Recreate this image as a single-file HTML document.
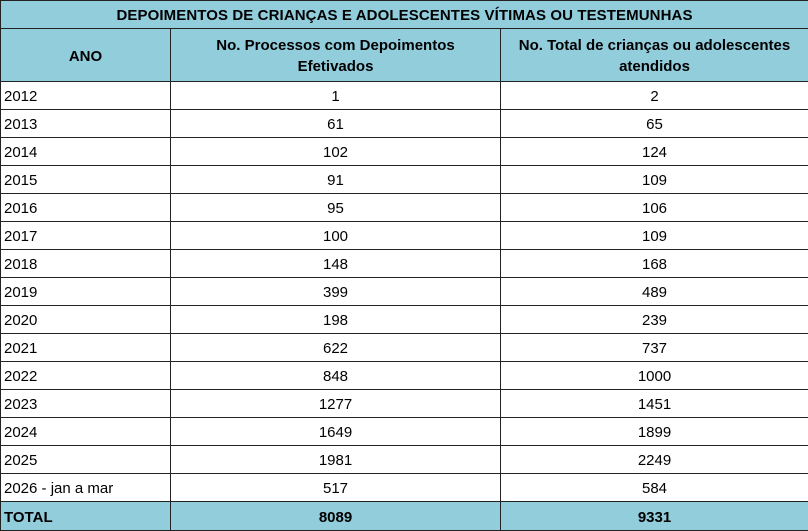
<!DOCTYPE html>
<html><head><meta charset="utf-8"><style>
body{margin:0;background:#fff;}
table{position:absolute;left:0;top:0;border-collapse:collapse;width:808px;table-layout:fixed;font-family:"Liberation Sans",sans-serif;font-size:15px;color:#000;}
td{border:1px solid #222;padding:2px 0 0 0;height:25px;text-align:center;vertical-align:middle;}
td.l{text-align:left;padding-left:3px;}
.h td{background:#92CDDC;font-weight:bold;}
tr.hd td{height:50px;line-height:21px;}
tr.t td{height:26px;}
</style></head><body>
<table>
<colgroup><col style="width:170px"><col style="width:330px"><col style="width:308px"></colgroup>
<tr class="h"><td colspan="3" style="letter-spacing:0.1px">DEPOIMENTOS DE CRIANÇAS E ADOLESCENTES VÍTIMAS OU TESTEMUNHAS</td></tr>
<tr class="h hd"><td>ANO</td><td>No. Processos com Depoimentos<br>Efetivados</td><td>No. Total de crianças ou adolescentes<br>atendidos</td></tr>
<tr><td class="l">2012</td><td>1</td><td>2</td></tr>
<tr><td class="l">2013</td><td>61</td><td>65</td></tr>
<tr><td class="l">2014</td><td>102</td><td>124</td></tr>
<tr><td class="l">2015</td><td>91</td><td>109</td></tr>
<tr><td class="l">2016</td><td>95</td><td>106</td></tr>
<tr><td class="l">2017</td><td>100</td><td>109</td></tr>
<tr><td class="l">2018</td><td>148</td><td>168</td></tr>
<tr><td class="l">2019</td><td>399</td><td>489</td></tr>
<tr><td class="l">2020</td><td>198</td><td>239</td></tr>
<tr><td class="l">2021</td><td>622</td><td>737</td></tr>
<tr><td class="l">2022</td><td>848</td><td>1000</td></tr>
<tr><td class="l">2023</td><td>1277</td><td>1451</td></tr>
<tr><td class="l">2024</td><td>1649</td><td>1899</td></tr>
<tr><td class="l">2025</td><td>1981</td><td>2249</td></tr>
<tr><td class="l">2026 - jan a mar</td><td>517</td><td>584</td></tr>
<tr class="h t"><td class="l">TOTAL</td><td>8089</td><td>9331</td></tr>
</table>
</body></html>
